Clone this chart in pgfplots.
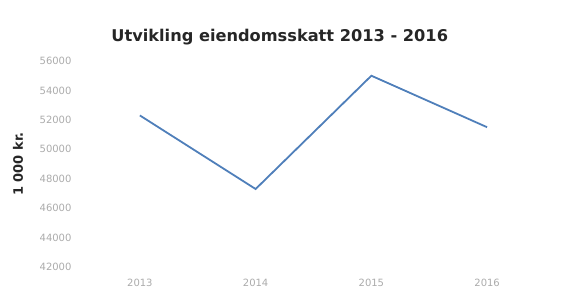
\documentclass[border=0pt]{standalone}
\usepackage{pgfplots}
\pgfplotsset{compat=1.18}
\usepackage{fontspec}
\setmainfont{DejaVu Sans}
\definecolor{lineblue}{HTML}{4F7FBA}
\definecolor{tickgray}{HTML}{ABABAB}
\begin{document}
\begin{tikzpicture}
\useasboundingbox (0,0) rectangle (566pt,298pt);
\begin{axis}[
  at={(82pt,31pt)}, anchor=south west,
  scale only axis, width=463pt, height=206pt,
  xmin=-0.5, xmax=3.5, ymin=42000, ymax=56000,
  axis line style={draw=none},
  major tick length=0pt,
  scaled y ticks=false,
  xtick={0,1,2,3}, xticklabels={2013,2014,2015,2016},
  ytick={42000,44000,...,56000},
  /pgf/number format/assume math mode=true,
  /pgf/number format/set thousands separator={},
  tick label style={font=\fontsize{10}{12}\selectfont, text=tickgray},
  yticklabel style={xshift=-7pt},
  xticklabel style={yshift=-9pt},
  clip=false,
]
\addplot[lineblue, line width=1.8pt] coordinates {(0,52300) (1,47300) (2,55000) (3,51500)};
\node[font=\bfseries\fontsize{16.2}{19}\selectfont, text=black!85] at (rel axis cs:0.427,1.117) {Utvikling eiendomsskatt 2013 - 2016};
\node[font=\bfseries\fontsize{13}{15}\selectfont, rotate=90, text=black!85] at ([xshift=-64pt]rel axis cs:0,0.50) {1 000 kr.};
\end{axis}
\end{tikzpicture}
\end{document}
